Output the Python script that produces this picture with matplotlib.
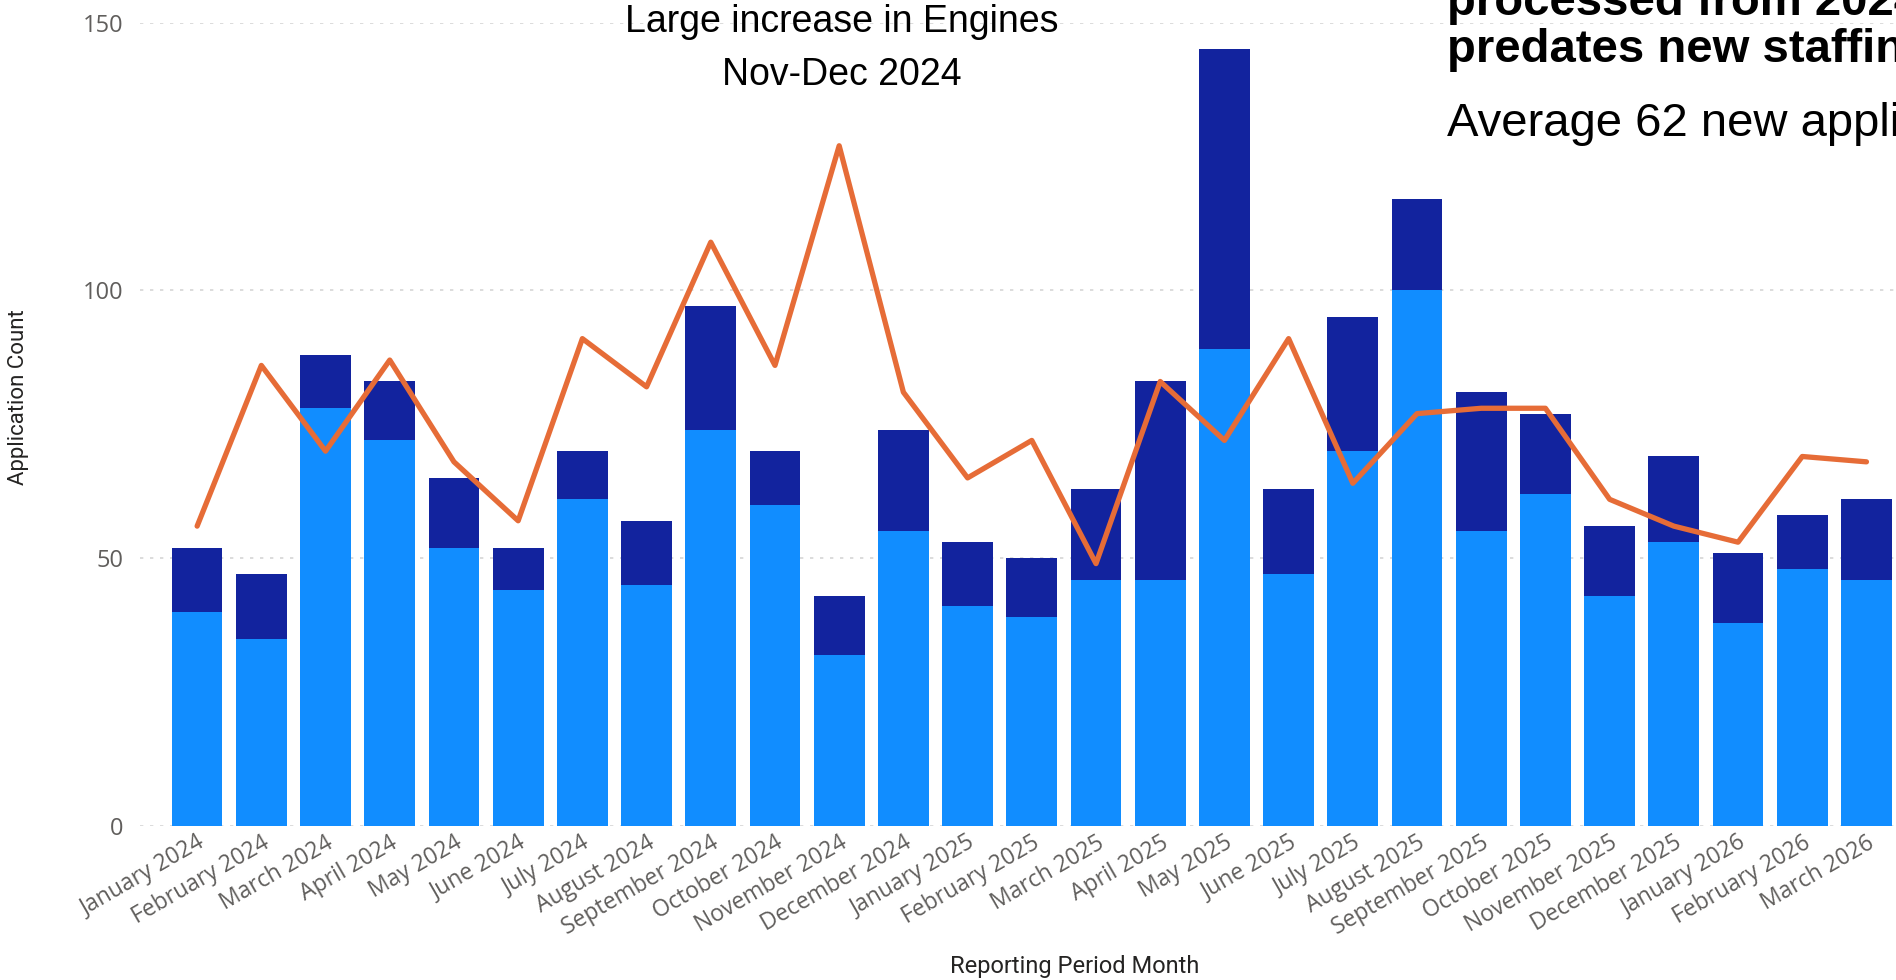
import numpy as np
import matplotlib.pyplot as plt

months = ['January 2024', 'February 2024', 'March 2024', 'April 2024', 'May 2024',
          'June 2024', 'July 2024', 'August 2024', 'September 2024', 'October 2024',
          'November 2024', 'December 2024', 'January 2025', 'February 2025',
          'March 2025', 'April 2025', 'May 2025', 'June 2025', 'July 2025',
          'August 2025', 'September 2025', 'October 2025', 'November 2025',
          'December 2025', 'January 2026', 'February 2026', 'March 2026']

# bottom segment (light blue) and top segment (dark blue)
light = [40, 35, 78, 72, 52, 44, 61, 45, 74, 60, 32, 55, 41, 39,
         46, 46, 89, 47, 70, 100, 55, 62, 43, 53, 38, 48, 46]
dark = [12, 12, 10, 11, 13, 8, 9, 12, 23, 10, 11, 19, 12, 11,
        17, 37, 56, 16, 25, 17, 26, 15, 13, 16, 13, 10, 15]
# orange line
line = [56, 86, 70, 87, 68, 57, 91, 82, 109, 86, 127, 81, 65, 72,
        49, 83, 72, 91, 64, 77, 78, 78, 61, 56, 53, 69, 68]

x = np.arange(len(months))

fig = plt.figure(figsize=(18.96, 9.8), dpi=100)
ax = fig.add_axes([0.0738, 0.157, 0.9262, 0.820])

ax.bar(x, light, width=0.79, color='#118DFF', zorder=2)
ax.bar(x, dark, width=0.79, bottom=light, color='#12239E', zorder=2)
ax.plot(x, line, color='#E66C37', lw=3.8, solid_joinstyle='round',
        solid_capstyle='round', zorder=3)

ax.set_ylim(0, 150)
ax.set_xlim(-0.891, 26.46)
ax.set_yticks([0, 50, 100, 150])
ax.yaxis.grid(True, color='#d6d6d6', linestyle=(0, (2, 4)), lw=1.2, zorder=0)
ax.set_axisbelow(True)
for s in ax.spines.values():
    s.set_visible(False)
ax.tick_params(axis='both', length=0, labelcolor='#605E5C')
ax.tick_params(axis='y', pad=12, labelsize=17)
ax.tick_params(axis='x', labelsize=16.5)
ax.set_xticks(x)
ax.set_xticklabels(months, rotation=30, ha='right', va='top',
                   rotation_mode='anchor', family='Open Sans')
for t in ax.get_yticklabels():
    t.set_family('Open Sans')

fig.text(0.010, 0.595, 'Application Count', rotation=90, ha='center', va='center',
         fontsize=16, color='#252423', family='Roboto')
fig.text(0.567, 0.007, 'Reporting Period Month', ha='center', va='baseline',
         fontsize=17, color='#252423', family='Roboto')

fig.text(0.444, 0.967, 'Large increase in Engines', ha='center', va='baseline',
         fontsize=27, family='Liberation Sans')
fig.text(0.444, 0.913, 'Nov-Dec 2024', ha='center', va='baseline',
         fontsize=27, family='Liberation Sans')

fig.text(0.763, 0.985, 'processed from 2024 backlog', ha='left', va='baseline',
         fontsize=34, fontweight='bold', family='Liberation Sans')
fig.text(0.763, 0.937, 'predates new staffing', ha='left', va='baseline',
         fontsize=34, fontweight='bold', family='Liberation Sans')
fig.text(0.763, 0.861, 'Average 62 new applications', ha='left', va='baseline',
         fontsize=34, family='Liberation Sans')

fig.savefig('out.png', dpi=100)
